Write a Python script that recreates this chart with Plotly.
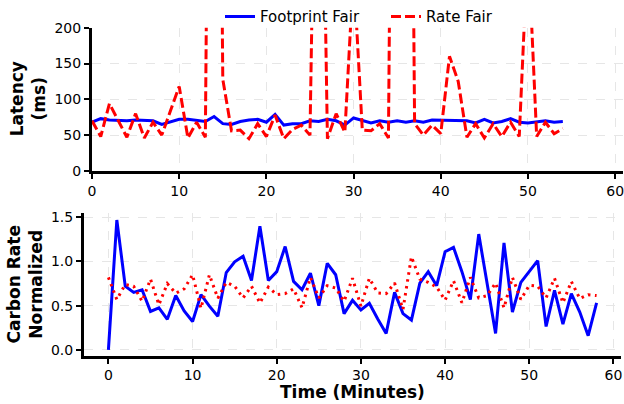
import plotly.graph_objects as go

# ---------------- data ----------------
latency_minutes = list(range(55))
footprint_fair_latency = [68, 73, 71, 70, 70, 71, 70, 70, 65, 69,
                          72, 72, 70, 69, 76, 66, 65, 69, 71, 72,
                          68, 79, 64, 66, 66, 70, 69, 72, 70, 64,
                          74, 70, 67, 70, 68, 70, 68, 70, 68, 71,
                          71, 71, 71, 70, 67, 72, 67, 69, 73, 68,
                          67, 68, 70, 68, 69]
rate_fair_latency = [70, 48, 94, 70, 47, 80, 46, 68, 50, 84,
                     118, 46, 68, 47, 1500, 128, 56, 57, 45, 66,
                     48, 78, 45, 58, 64, 50, 800, 45, 80, 54,
                     280, 57, 56, 66, 46, 1500, 1500, 66, 50, 64,
                     52, 160, 125, 47, 66, 46, 66, 48, 68, 48,
                     320, 48, 68, 52, 59]

carbon_minutes = list(range(59))
footprint_fair_carbon = [0.00, 1.47, 0.72, 0.65, 0.68, 0.435, 0.476, 0.346, 0.614, 0.44,
                         0.32, 0.625, 0.494, 0.38, 0.875, 0.997, 1.06, 0.785, 1.40, 0.785,
                         0.885, 1.17, 0.775, 0.68, 0.867, 0.50, 0.98, 0.85, 0.41, 0.56,
                         0.451, 0.526, 0.35, 0.186, 0.65, 0.41, 0.337, 0.755, 0.885, 0.726,
                         1.11, 1.16, 0.885, 0.57, 1.31, 0.755, 0.186, 1.21, 0.428, 0.763,
                         0.885, 1.01, 0.264, 0.674, 0.29, 0.637, 0.428, 0.16, 0.532]
rate_fair_carbon = [0.82, 0.57, 0.74, 0.72, 0.55, 0.80, 0.51, 0.75, 0.64, 0.69,
                    0.85, 0.47, 0.85, 0.584, 0.763, 0.72, 0.588, 0.72, 0.53, 0.71,
                    0.625, 0.636, 0.69, 0.476, 0.82, 0.588, 0.726, 0.70, 0.55, 0.81,
                    0.495, 0.81, 0.644, 0.636, 0.756, 0.458, 1.054, 0.80, 0.763, 0.71,
                    0.562, 0.782, 0.532, 0.82, 0.588, 0.614, 0.756, 0.476, 0.82, 0.57,
                    0.73, 0.72, 0.588, 0.81, 0.532, 0.774, 0.58, 0.624, 0.614]

x_ticks = [0, 10, 20, 30, 40, 50, 60]
latency_ticks = [0, 50, 100, 150, 200]
carbon_ticks = [0.0, 0.5, 1.0, 1.5]
carbon_tick_labels = ["0.0", "0.5", "1.0", "1.5"]

series_names = ["Footprint Fair", "Rate Fair"]
BLUE = "#0000ff"
RED = "#ff0000"

# ---------------- figure ----------------
W, H = 624, 404
fig = go.Figure()

fig.add_trace(go.Scatter(x=latency_minutes, y=footprint_fair_latency, mode="lines",
                         name=series_names[0], line=dict(color=BLUE, width=3),
                         xaxis="x", yaxis="y"))
fig.add_trace(go.Scatter(x=latency_minutes, y=rate_fair_latency, mode="lines",
                         name=series_names[1], line=dict(color=RED, width=3, dash="10px,4px"),
                         xaxis="x", yaxis="y"))
fig.add_trace(go.Scatter(x=carbon_minutes, y=footprint_fair_carbon, mode="lines",
                         name=series_names[0], showlegend=False,
                         line=dict(color=BLUE, width=3), xaxis="x2", yaxis="y2"))
fig.add_trace(go.Scatter(x=carbon_minutes, y=rate_fair_carbon, mode="lines",
                         name=series_names[1], showlegend=False,
                         line=dict(color=RED, width=3, dash="2.5px,4.5px"),
                         xaxis="x2", yaxis="y2"))

def px_x(p):
    return p / W

def px_y(p):
    return 1 - p / H

axis_common = dict(showline=True, linecolor="black", linewidth=3,
                   ticks="outside", ticklen=5, tickwidth=1.5, tickcolor="black",
                   showgrid=True, gridcolor="#e6e6e6", gridwidth=1, griddash="dash",
                   zeroline=False, mirror=False, automargin=False,
                   ticklabeloverflow="allow",
                   tickfont=dict(family="DejaVu Sans", size=14, color="black"))

fig.update_layout(
    template="none",
    width=W, height=H,
    margin=dict(l=0, r=0, t=0, b=0, pad=0),
    paper_bgcolor="white", plot_bgcolor="white",
    font=dict(family="DejaVu Sans", size=14, color="black"),
    xaxis=dict(domain=[px_x(92), px_x(623)], range=[0, 60.9], tickvals=x_ticks,
               anchor="y", **axis_common),
    yaxis=dict(domain=[px_y(168), px_y(23)], range=[0, 200], tickvals=latency_ticks,
               anchor="x", **axis_common),
    xaxis2=dict(domain=[px_x(84), px_x(621)], range=[-2.9, 60.9], tickvals=x_ticks,
                anchor="y2", **axis_common),
    yaxis2=dict(domain=[px_y(355), px_y(210.7)], range=[-0.0655, 1.548],
                tickvals=carbon_ticks, ticktext=carbon_tick_labels,
                anchor="x2", **axis_common),
    legend=dict(orientation="h", x=px_x(220), xanchor="left",
                y=px_y(12), yanchor="middle", bgcolor="rgba(0,0,0,0)",
                font=dict(family="DejaVu Sans", size=15, color="black"),
                itemwidth=30, entrywidth=121, entrywidthmode="pixels"),
    showlegend=True,
)

title_font = dict(family="DejaVu Sans", size=17, color="black")
fig.add_annotation(text="<b>Latency</b><br><b>(ms)</b>", xref="paper", yref="paper",
                   x=px_x(28), y=px_y(95.5), textangle=-90, showarrow=False,
                   xanchor="center", yanchor="middle", font=title_font)
fig.add_annotation(text="<b>Carbon Rate</b><br><b>Normalized</b>", xref="paper", yref="paper",
                   x=px_x(25), y=px_y(283), textangle=-90, showarrow=False,
                   xanchor="center", yanchor="middle", font=title_font)
fig.add_annotation(text="<b>Time (Minutes)</b>", xref="paper", yref="paper",
                   x=px_x(352), y=px_y(392), showarrow=False,
                   xanchor="center", yanchor="middle", font=title_font)

fig.write_html("out.html", config={"displayModeBar": False},
               post_script="document.body.style.margin='0';document.body.style.padding='0';")
